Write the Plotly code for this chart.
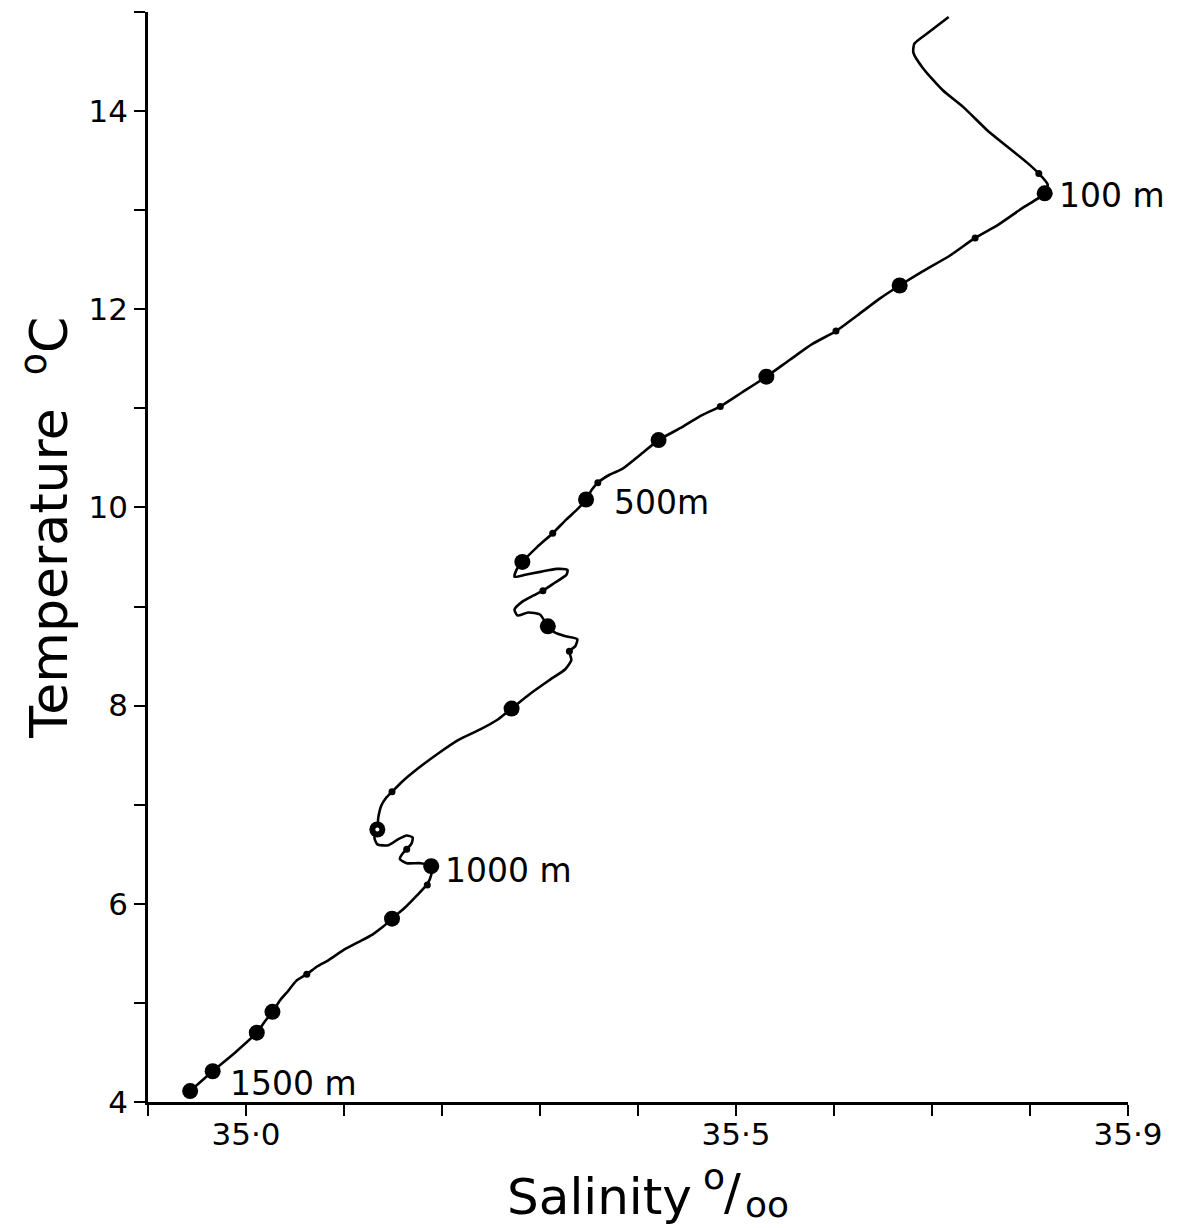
import plotly.graph_objects as go

# Continuous T–S trace (salinity ‰, temperature °C), deepest point first
salinity_path = [
    34.943, 34.966, 34.989, 35.011, 35.019, 35.027, 35.035, 35.043, 35.051, 35.062,
    35.073, 35.084, 35.099, 35.114, 35.129, 35.140, 35.149, 35.162, 35.174, 35.185,
    35.189, 35.189, 35.178, 35.164, 35.157, 35.160, 35.164, 35.169, 35.170, 35.164,
    35.155, 35.145, 35.134, 35.131, 35.134, 35.135, 35.138, 35.143, 35.149, 35.159,
    35.176, 35.195, 35.216, 35.239, 35.257, 35.271, 35.290, 35.310, 35.326, 35.332,
    35.330, 35.336, 35.338, 35.326, 35.315, 35.308, 35.300, 35.288, 35.277, 35.274,
    35.282, 35.293, 35.303, 35.315, 35.327, 35.328, 35.317, 35.300, 35.285, 35.274,
    35.276, 35.282, 35.297, 35.313, 35.327, 35.339, 35.347, 35.353, 35.359, 35.371,
    35.384, 35.402, 35.421, 35.443, 35.463, 35.484, 35.506, 35.531, 35.555, 35.578,
    35.602, 35.624, 35.647, 35.667, 35.690, 35.718, 35.744, 35.767, 35.792, 35.815,
    35.818, 35.809, 35.797, 35.777, 35.756, 35.732, 35.711, 35.691, 35.681, 35.682,
    35.696, 35.717,
]
temperature_path = [
    4.11, 4.31, 4.50, 4.70, 4.81, 4.91, 5.03, 5.12, 5.22, 5.29,
    5.37, 5.43, 5.53, 5.61, 5.69, 5.77, 5.85, 5.96, 6.08, 6.20,
    6.29, 6.38, 6.41, 6.41, 6.45, 6.51, 6.55, 6.61, 6.67, 6.69,
    6.65, 6.59, 6.60, 6.67, 6.75, 6.87, 6.99, 7.07, 7.13, 7.23,
    7.37, 7.51, 7.65, 7.76, 7.86, 7.97, 8.12, 8.26, 8.37, 8.46,
    8.55, 8.60, 8.67, 8.70, 8.74, 8.80, 8.92, 8.94, 8.91, 8.97,
    9.05, 9.11, 9.16, 9.24, 9.32, 9.37, 9.38, 9.35, 9.32, 9.30,
    9.37, 9.45, 9.60, 9.74, 9.88, 9.99, 10.08, 10.18, 10.25, 10.33,
    10.39, 10.53, 10.68, 10.80, 10.92, 11.02, 11.16, 11.32, 11.49, 11.65,
    11.78, 11.94, 12.11, 12.24, 12.38, 12.54, 12.72, 12.85, 13.02, 13.17,
    13.26, 13.37, 13.48, 13.64, 13.81, 14.04, 14.21, 14.43, 14.59, 14.68,
    14.79, 14.95,
]

# Major depth marks (large dots)
major_salinity = [34.943, 34.966, 35.011, 35.027, 35.149, 35.189, 35.134,
                  35.271, 35.308, 35.282, 35.347, 35.421, 35.531, 35.667, 35.815]
major_temperature = [4.11, 4.31, 4.70, 4.91, 5.85, 6.38, 6.75,
                     7.97, 8.80, 9.45, 10.08, 10.68, 11.32, 12.24, 13.17]

# Intermediate depth marks (small dots)
minor_salinity = [35.062, 35.185, 35.164, 35.149, 35.330, 35.303, 35.313,
                  35.359, 35.484, 35.602, 35.744, 35.809]
minor_temperature = [5.29, 6.19, 6.55, 7.13, 8.55, 9.16, 9.74,
                     10.25, 11.02, 11.78, 12.72, 13.37]

# Open-centred mark
ring_salinity = [35.134]
ring_temperature = [6.75]

# Depth annotations
depth_labels = ["100 m", "500m", "1000 m", "1500 m"]
depth_salinity = [35.815, 35.347, 35.189, 34.943]
depth_temperature = [13.17, 10.08, 6.38, 4.11]
depth_xshift = [12, 26, 12, 38]
depth_yshift = [-2, -3, -4, 8]

# Axis ticks: labelled (major) and unlabelled (minor) positions
x_tickvals = [35.0, 35.5, 35.9]
x_ticktext = ["35·0", "35·5", "35·9"]
x_minor_tickvals = [34.9, 35.1, 35.2, 35.3, 35.4, 35.6, 35.7, 35.8]
y_tickvals = [4, 6, 8, 10, 12, 14]
y_ticktext = ["4", "6", "8", "10", "12", "14"]
y_minor_tickvals = [5, 7, 9, 11, 13, 15]

FONT = "DejaVu Sans"
INK = "black"

fig = go.Figure()

fig.add_trace(go.Scatter(
    x=salinity_path, y=temperature_path, mode="lines",
    line=dict(color=INK, width=2.6, shape="spline", smoothing=0.6),
    hoverinfo="skip", showlegend=False,
))
fig.add_trace(go.Scatter(
    x=minor_salinity, y=minor_temperature, mode="markers",
    marker=dict(color=INK, size=7), showlegend=False,
))
fig.add_trace(go.Scatter(
    x=major_salinity, y=major_temperature, mode="markers",
    marker=dict(color=INK, size=16), showlegend=False,
))
fig.add_trace(go.Scatter(
    x=ring_salinity, y=ring_temperature, mode="markers",
    marker=dict(color="white", size=4), showlegend=False,
))

for text, s, t, dx, dy in zip(depth_labels, depth_salinity, depth_temperature,
                              depth_xshift, depth_yshift):
    fig.add_annotation(
        x=s, y=t, text=text, showarrow=False, xanchor="left", yanchor="middle",
        xshift=dx, yshift=dy, font=dict(family=FONT, size=33, color=INK),
    )

# Axis titles
fig.add_annotation(
    xref="paper", yref="paper", x=-0.105, y=0.527, text="Temperature  <sup>o</sup>C",
    textangle=-90, showarrow=False, xanchor="center", yanchor="middle",
    font=dict(family=FONT, size=52, color=INK),
)
fig.add_annotation(
    xref="paper", yref="paper", x=0.461, y=-0.087, text="Salinity",
    showarrow=False, xanchor="center", yanchor="middle",
    font=dict(family=FONT, size=50, color=INK),
)
fig.add_annotation(
    xref="paper", yref="paper", x=0.578, y=-0.068, text="o",
    showarrow=False, xanchor="center", yanchor="middle",
    font=dict(family=FONT, size=36, color=INK),
)
fig.add_annotation(
    xref="paper", yref="paper", x=0.596, y=-0.083, text="/",
    showarrow=False, xanchor="center", yanchor="middle",
    font=dict(family=FONT, size=50, color=INK),
)
fig.add_annotation(
    xref="paper", yref="paper", x=0.632, y=-0.094, text="oo",
    showarrow=False, xanchor="center", yanchor="middle",
    font=dict(family=FONT, size=36, color=INK),
)

axis_common = dict(
    showline=True, linecolor=INK, linewidth=2.5, mirror=False,
    showgrid=False, zeroline=False, ticks="outside", ticklen=11,
    tickwidth=2, tickcolor=INK, tickfont=dict(family=FONT, size=31, color=INK),
)

fig.update_layout(
    width=1177, height=1228,
    margin=dict(l=148, r=49, t=12, b=126),
    paper_bgcolor="white", plot_bgcolor="white",
    xaxis=dict(range=[34.9, 35.9], tickmode="array", tickvals=x_tickvals,
               ticktext=x_ticktext, ticklabelstandoff=-8,
               minor=dict(tickmode="array", tickvals=x_minor_tickvals,
                          ticks="outside", ticklen=11, tickwidth=2,
                          tickcolor=INK, showgrid=False),
               **axis_common),
    yaxis=dict(range=[4, 15], tickmode="array", tickvals=y_tickvals,
               ticktext=y_ticktext, ticklabelstandoff=0,
               minor=dict(tickmode="array", tickvals=y_minor_tickvals,
                          ticks="outside", ticklen=11, tickwidth=2,
                          tickcolor=INK, showgrid=False),
               **axis_common),
    showlegend=False,
)

fig.write_html("out.html")
